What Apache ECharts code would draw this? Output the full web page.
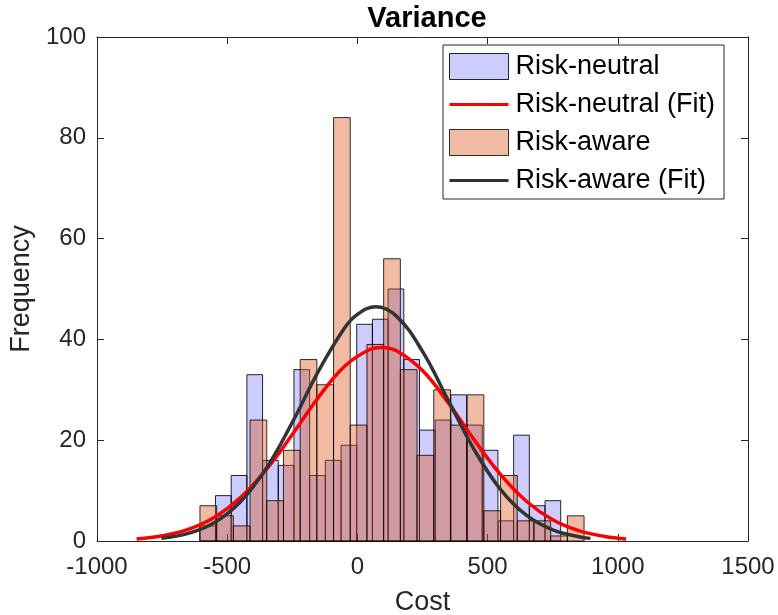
<!DOCTYPE html>
<html>
<head>
<meta charset="utf-8">
<script src="https://cdn.jsdelivr.net/npm/echarts@6/dist/echarts.min.js"></script>
<style>html,body{margin:0;padding:0;background:#fff;}#c{width:778px;height:615px;}</style>
</head>
<body>
<div id="c"></div>
<script>
// Histogram bins (value units) and counts
const neutralBinStart = -605.2;
const neutralBinWidth = 60.26;
const neutralCounts = [3, 9, 13, 33, 16, 15, 34, 13, 16, 19, 43, 44, 50, 36, 22, 24, 29, 23, 18, 4, 21, 7, 8];

const awareBinStart = -604.6;
const awareBinWidth = 64.13;
const awareCounts = [7, 5, 3, 24, 8, 18, 36, 31, 84, 23, 39, 56, 34, 17, 30, 23, 29, 6, 13, 4, 4, 1, 5];

// Fitted curves, points
const neutralFitX = [-848, -750, -650, -550, -450, -350, -250, -150, -50, 50, 92, 150, 250, 350, 450, 550, 650, 750, 850, 950, 1032];
const neutralFitY = [0.42, 1.03, 2.31, 4.68, 8.58, 14.17, 21.14, 28.48, 34.64, 38.05, 38.4, 37.75, 33.81, 27.34, 19.97, 13.16, 7.84, 4.21, 2.05, 0.90, 0.42];

const awareFitX = [-753, -650, -550, -450, -350, -250, -150, -50, 0, 71, 150, 250, 350, 450, 550, 650, 750, 850, 895];
const awareFitY = [0.52, 1.50, 3.63, 7.73, 14.41, 23.53, 33.67, 42.21, 44.97, 46.5, 44.62, 37.62, 27.79, 17.99, 10.20, 5.07, 2.21, 0.84, 0.52];

const xTicks = [-1000, -500, 0, 500, 1000, 1500];
const yTicks = [0, 20, 40, 60, 80, 100];

const FONT = 'Liberation Sans, Arial, Helvetica, sans-serif';
const AX = '#262626';
const LINE_ICON = 'path://M0,0 L80,0 L80,4 L0,4 Z';

function binData(start, width, counts) {
  return counts.map((c, i) => [start + i * width, start + (i + 1) * width, c]);
}
function pairs(xs, ys) { return xs.map((x, i) => [x, ys[i]]); }

function renderBar(params, api) {
  const p0 = api.coord([api.value(0), 0]);
  const p1 = api.coord([api.value(1), api.value(2)]);
  return {
    type: 'rect',
    shape: { x: p0[0], y: p1[1], width: p1[0] - p0[0], height: p0[1] - p1[1] },
    style: api.style()
  };
}

const blueStyle = { color: 'rgba(0,0,255,0.2)', borderColor: 'rgba(0,0,0,0.85)', borderWidth: 1 };
const orangeStyle = { color: 'rgba(217,83,25,0.4)', borderColor: 'rgba(0,0,0,0.8)', borderWidth: 1 };

const chart = echarts.init(document.getElementById('c'));
chart.setOption({
  animation: false,
  backgroundColor: '#fff',
  textStyle: { fontFamily: FONT },
  title: {
    text: 'Variance',
    left: 422,
    textAlign: 'center',
    top: -1,
    textStyle: { fontSize: 29, fontWeight: 'bold', color: '#000', fontFamily: FONT }
  },
  grid: { left: 97, right: 30, top: 37, bottom: 74, show: false, containLabel: false, outerBoundsMode: 'none' },
  legend: {
    orient: 'vertical',
    left: 443,
    top: 45,
    padding: [8, 9, 5, 6],
    itemWidth: 59,
    itemHeight: 26,
    itemGap: 11,
    backgroundColor: '#fff',
    borderColor: AX,
    borderWidth: 1,
    textStyle: { fontSize: 27, color: '#000', fontFamily: FONT, padding: [0, 0, 0, 2] },
    data: [
      { name: 'Risk-neutral', icon: 'rect', itemStyle: blueStyle },
      { name: 'Risk-neutral (Fit)', icon: LINE_ICON, itemStyle: { color: '#ff0000', borderWidth: 0 } },
      { name: 'Risk-aware', icon: 'rect', itemStyle: orangeStyle },
      { name: 'Risk-aware (Fit)', icon: LINE_ICON, itemStyle: { color: '#333333', borderWidth: 0 } }
    ]
  },
  xAxis: [{
    type: 'value', min: xTicks[0], max: xTicks[xTicks.length - 1], interval: 500,
    name: 'Cost', nameLocation: 'middle', nameGap: 48,
    nameTextStyle: { fontSize: 27, color: AX, fontFamily: FONT },
    axisLine: { show: true, onZero: false, lineStyle: { color: AX, width: 1 } },
    axisTick: { show: true, inside: true, length: 7, lineStyle: { color: AX } },
    axisLabel: { fontSize: 24, color: AX, margin: 14, fontFamily: FONT, formatter: v => String(v) },
    splitLine: { show: false }
  }, {
    type: 'value', position: 'top', min: xTicks[0], max: xTicks[xTicks.length - 1], interval: 500,
    axisLine: { show: true, onZero: false, lineStyle: { color: AX, width: 1 } },
    axisTick: { show: true, inside: true, length: 7, lineStyle: { color: AX } },
    axisLabel: { show: false }, splitLine: { show: false }
  }],
  yAxis: [{
    type: 'value', min: yTicks[0], max: yTicks[yTicks.length - 1], interval: 20,
    name: 'Frequency', nameLocation: 'middle', nameGap: 62, nameRotate: 90,
    nameTextStyle: { fontSize: 27, color: AX, fontFamily: FONT },
    axisLine: { show: true, onZero: false, lineStyle: { color: AX, width: 1 } },
    axisTick: { show: true, inside: true, length: 7, lineStyle: { color: AX } },
    axisLabel: { fontSize: 24, color: AX, margin: 11, fontFamily: FONT, formatter: v => String(v) },
    splitLine: { show: false }
  }, {
    type: 'value', position: 'right', min: yTicks[0], max: yTicks[yTicks.length - 1], interval: 20,
    axisLine: { show: true, onZero: false, lineStyle: { color: AX, width: 1 } },
    axisTick: { show: true, inside: true, length: 7, lineStyle: { color: AX } },
    axisLabel: { show: false }, splitLine: { show: false }
  }],
  series: [
    {
      name: 'Risk-neutral', type: 'custom', renderItem: renderBar,
      xAxisIndex: 0, yAxisIndex: 0,
      encode: { x: [0, 1], y: 2 },
      itemStyle: blueStyle,
      data: binData(neutralBinStart, neutralBinWidth, neutralCounts), z: 2
    },
    {
      name: 'Risk-aware', type: 'custom', renderItem: renderBar,
      xAxisIndex: 0, yAxisIndex: 0,
      encode: { x: [0, 1], y: 2 },
      itemStyle: orangeStyle,
      data: binData(awareBinStart, awareBinWidth, awareCounts), z: 3
    },
    {
      name: 'Risk-neutral (Fit)', type: 'line', smooth: 0.4, showSymbol: false, symbol: 'none',
      xAxisIndex: 0, yAxisIndex: 0,
      itemStyle: { color: '#ff0000' },
      lineStyle: { color: '#ff0000', width: 3.5 },
      data: pairs(neutralFitX, neutralFitY), z: 4
    },
    {
      name: 'Risk-aware (Fit)', type: 'line', smooth: 0.4, showSymbol: false, symbol: 'none',
      xAxisIndex: 0, yAxisIndex: 0,
      itemStyle: { color: '#333333' },
      lineStyle: { color: '#333333', width: 3.5 },
      data: pairs(awareFitX, awareFitY), z: 5
    }
  ]
});
</script>
</body>
</html>
